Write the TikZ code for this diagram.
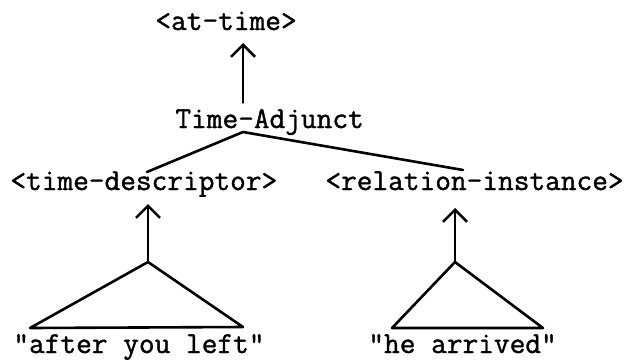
\documentclass[tikz,border=0pt]{standalone}
\usepackage{fontspec}
\usepackage{tikz}
\usetikzlibrary{arrows.meta}
\newfontfamily\typewfont{Latin Modern Mono}[FakeBold=1.2]

\tikzset{
  lbl/.style={font=\fontsize{15.24}{18}\selectfont\typewfont\bfseries, inner sep=0pt, anchor=base west},
  stroke/.style={line width=1.3pt, line cap=round, line join=round},
  uparrow/.style={stroke, -{Straight Barb[length=6pt,width=12pt]}}
}

\begin{document}
\begin{tikzpicture}[x=0.5pt,y=-0.5pt]
\useasboundingbox (0,0) rectangle (630,359);

% labels, placed by their base line
\node[lbl] (attime)  at (155,30)  {<at-time>};
\node[lbl] (adjunct) at (175,128) {Time-Adjunct};
\node[lbl] (descr)   at (10,190)  {<time-descriptor>};
\node[lbl] (relinst) at (325,190) {<relation-instance>};
\node[lbl] (after)   at (13,353)  {"after you left"};
\node[lbl] (arrived) at (368,353) {"he arrived"};

% Time-Adjunct up to <at-time>
\coordinate (fork) at (243,132);
\draw[uparrow, shorten <=3pt, shorten >=6.5pt] (adjunct.north -| fork) -- (fork |- attime.base);

% fork down to the two parts
\coordinate (forkL) at (147,172);
\coordinate (forkR) at (463,170);
\draw[stroke] (forkL) -- (fork) -- (forkR);

% triangles over the two phrases
\coordinate (apexL) at (148,262);
\coordinate (apexR) at (455,262);
\draw[stroke] (30,328) -- (apexL) -- (243,327) -- cycle;
\draw[stroke] (392,328) -- (apexR) -- (543,328) -- cycle;
\draw[uparrow, shorten >=7pt] (apexL) -- (apexL |- descr.base);
\draw[uparrow, shorten >=9pt] (apexR) -- (apexR |- relinst.base);

\end{tikzpicture}
\end{document}
